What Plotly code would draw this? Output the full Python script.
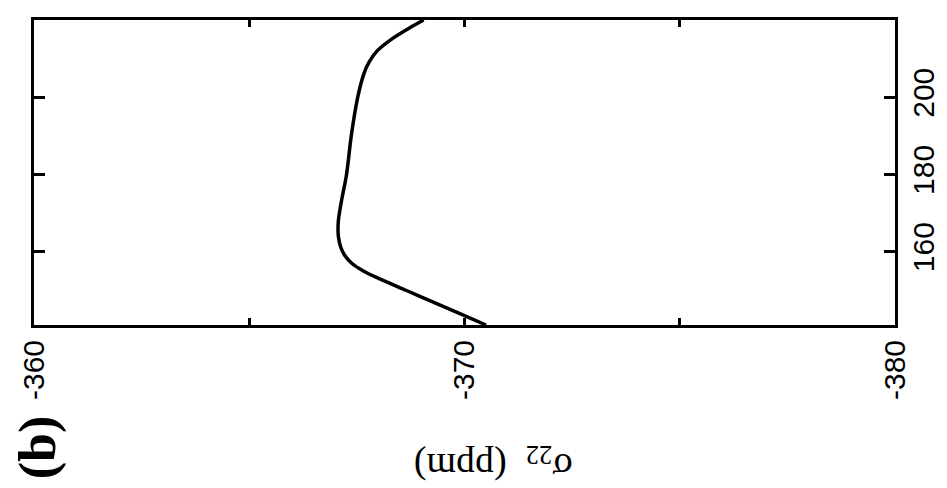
import plotly.graph_objects as go

angle = [141, 144, 147, 150, 153, 155, 157, 159, 161, 164, 168, 173, 180, 190, 200, 206, 209, 212, 215, 218, 220]
sigma22 = [-370.5, -369.88, -369.26, -368.64, -368.02, -367.65, -367.38, -367.22, -367.13, -367.07, -367.07,
           -367.14, -367.26, -367.37, -367.52, -367.66, -367.78, -367.97, -368.3, -368.73, -369.05]

sigma_ticks = [-360, -365, -370, -375, -380]
sigma_labels = ["-360", "", "-370", "", "-380"]
angle_ticks = [160, 180, 200]
angle_labels = ["160", "180", "200"]

fig = go.Figure()
fig.add_trace(go.Scatter(x=sigma22, y=angle, mode="lines",
                         line=dict(color="black", width=3.5, shape="spline", smoothing=0.8),
                         showlegend=False, hoverinfo="skip"))

fig.update_xaxes(range=[-360, -380], tickvals=sigma_ticks, ticktext=sigma_labels,
                 tickangle=-90, ticks="inside", ticklen=7, tickwidth=2.5, tickcolor="black",
                 showline=True, linewidth=3, linecolor="black", mirror="allticks",
                 showgrid=False, zeroline=False, automargin=False,
                 tickfont=dict(family="Liberation Sans", size=30, color="black"))
fig.update_yaxes(range=[141, 220], tickvals=angle_ticks, ticktext=angle_labels,
                 side="right", tickangle=-90, ticks="inside", ticklen=11, tickwidth=2.5,
                 tickcolor="black", showline=True, linewidth=3, linecolor="black",
                 mirror="allticks", showgrid=False, zeroline=False, automargin=False,
                 tickfont=dict(family="Liberation Sans", size=30, color="black"))

fig.add_annotation(text="<b>(b)</b>", xref="paper", yref="paper", x=0.005, y=-0.4,
                   xanchor="center", yanchor="middle", textangle=-90, showarrow=False,
                   font=dict(family="Liberation Serif", size=52, color="black"))
fig.add_annotation(text="σ<sub>22</sub>  (ppm)", xref="paper", yref="paper", x=0.533, y=-0.455,
                   xanchor="center", yanchor="middle", textangle=180, showarrow=False,
                   font=dict(family="Liberation Serif", size=38, color="black"))

# page body has an 8px margin, so the figure is sized to fit the 947x488 window
fig.update_layout(width=939, height=480, margin=dict(l=26, r=52, t=12, b=163),
                  plot_bgcolor="white", paper_bgcolor="white")
fig.write_html("out.html")
